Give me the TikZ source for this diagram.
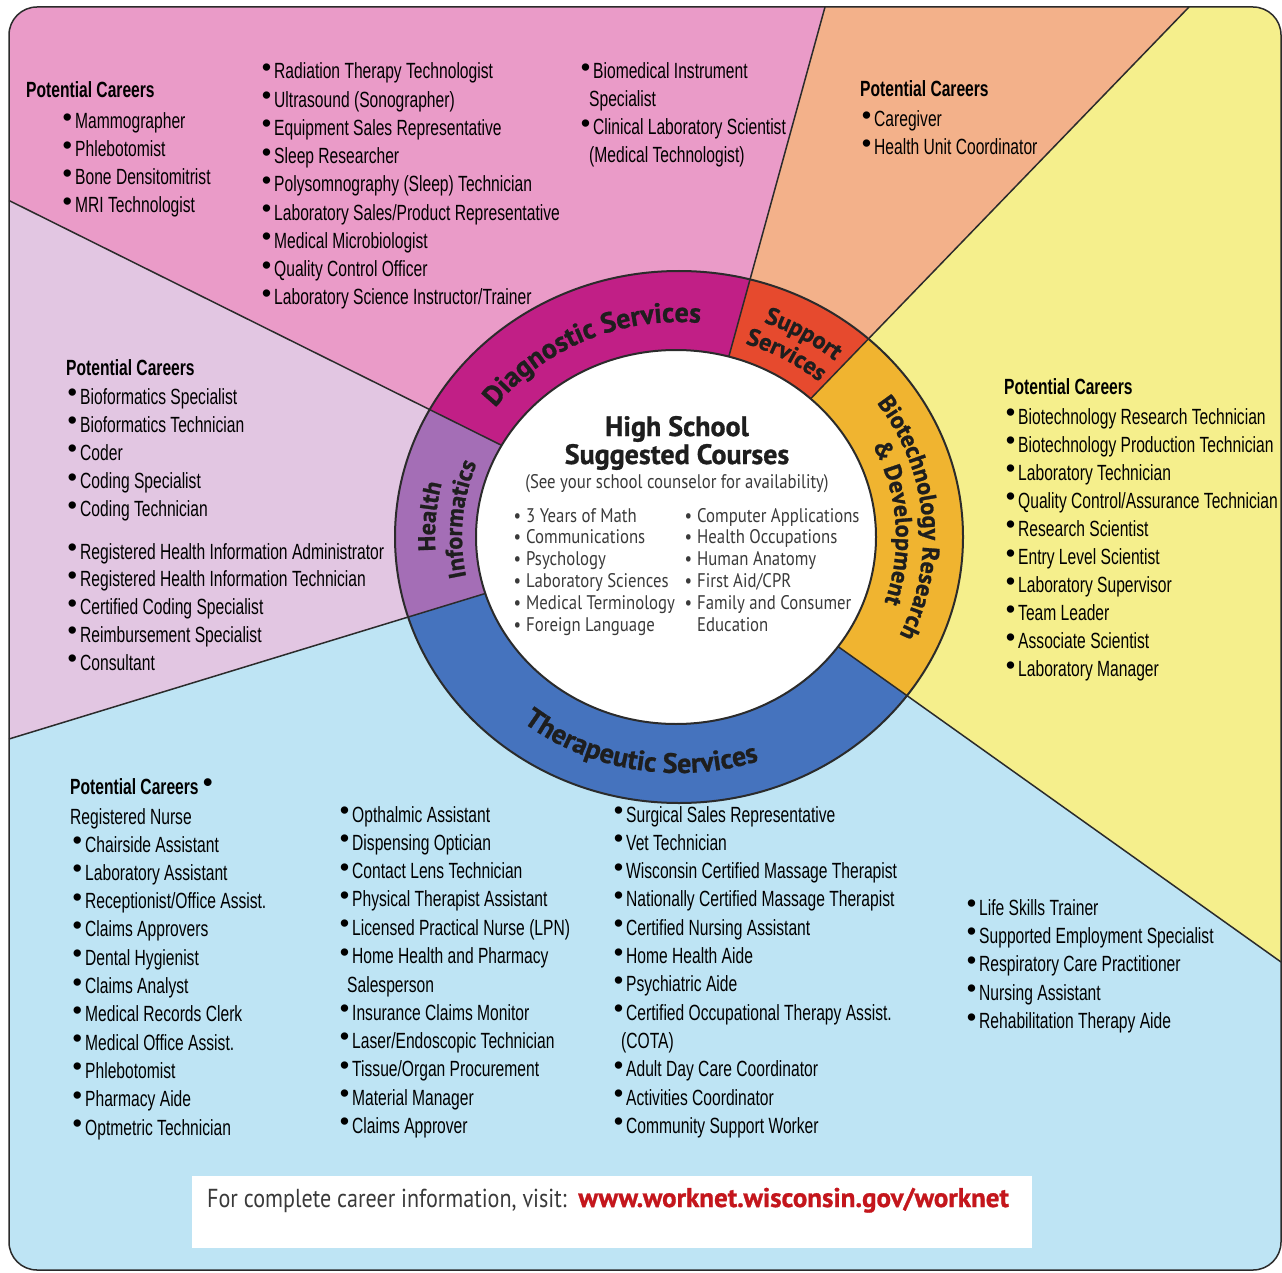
\documentclass[tikz,border=0pt]{standalone}
\usepackage{fontspec}
\usetikzlibrary{calc}

\newfontfamily\listfont[FakeStretch=0.71]{Liberation Sans}
\newfontfamily\dotfont{Liberation Sans}
\newfontfamily\ringfont[BoldFeatures={FakeBold=1}]{PT Sans}
\newfontfamily\coursefont[FakeStretch=0.85]{PT Sans}

\definecolor{dsbg}{HTML}{EA9BC8}
\definecolor{dsring}{HTML}{C11F86}
\definecolor{ssbg}{HTML}{F3B18A}
\definecolor{ssring}{HTML}{E64A2E}
\definecolor{btbg}{HTML}{F5EF8C}
\definecolor{btring}{HTML}{F0B430}
\definecolor{tsbg}{HTML}{BEE4F4}
\definecolor{tsring}{HTML}{4573BE}
\definecolor{hibg}{HTML}{E2C6E2}
\definecolor{hiring}{HTML}{A46EB6}
\definecolor{edge}{HTML}{2B2B2B}
\definecolor{ringtext}{HTML}{1E1E1E}
\definecolor{coursetext}{HTML}{3A3A3A}
\definecolor{urlred}{HTML}{C4161C}

\newcommand{\bigdot}{{\dotfont\fontsize{27}{27}\selectfont\raisebox{2.5pt}{\textbullet}}}
\newcommand{\dotitem}{\llap{\bigdot\hspace{3pt}}}
\newcommand{\coursedot}{\llap{\textbullet\hspace{5pt}}}
\newcommand{\bigring}{\ringfont\bfseries\fontsize{28}{28}\selectfont\color{ringtext}}
\newcommand{\smallring}{\ringfont\bfseries\fontsize{24}{24}\selectfont\color{ringtext}}

% Width of one letter, measured outside the picture
\newdimen\arcw
\newcommand{\letterwidth}[2]{%
  \pgfinterruptpicture\settowidth{\arcw}{#1#2}\global\arcw=\arcw\endpgfinterruptpicture}

% Letters set one by one along an ellipse arc
% #1 name, #2 font, #3 middle angle, #4 x radius, #5 y radius, #6 direction, #7 letters
\newcommand{\arctext}[7]{%
  \gdef\arcsum{0}%
  \foreach \ch in {#7}{%
    \letterwidth{#2}{\ch}%
    \pgfmathsetmacro\tmp{\arcsum+\the\arcw}%
    \xdef\arcsum{\tmp}%
  }%
  \pgfmathsetmacro\spd{100*sqrt((#4/100*sin(#3))^2+(#5/100*cos(#3))^2)}%
  \pgfmathsetmacro\tmp{#3-(#6)*(\arcsum/2)/\spd*180/pi}%
  \xdef\arct{\tmp}%
  \foreach \ch [count=\idx] in {#7}{%
    \letterwidth{#2}{\ch}%
    \pgfmathsetmacro\spd{100*sqrt((#4/100*sin(\arct))^2+(#5/100*cos(\arct))^2)}%
    \pgfmathsetmacro\tmid{\arct+(#6)*(\the\arcw/2)/\spd*180/pi}%
    \pgfmathsetmacro\rot{atan2((#6)*(#5)*cos(\tmid),-1*(#6)*(#4)*sin(\tmid))}%
    \node[anchor=base, inner sep=0pt, rotate=\rot, font=#2] (#1-\idx) at (\tmid:#4 and #5) {\ch};%
    \pgfmathsetmacro\tmp{\arct+(#6)*\the\arcw/\spd*180/pi}%
    \xdef\arct{\tmp}%
  }%
}

\tikzset{
  career/.style={anchor=base west, inner sep=0pt, font=\listfont\fontsize{22}{22}\selectfont},
  heading/.style={career, font=\listfont\bfseries\fontsize{22}{22}\selectfont},
  course/.style={anchor=base west, inner sep=0pt, text=coursetext, font=\coursefont\fontsize{19.7}{19.7}\selectfont},
  title/.style={anchor=base, inner sep=0pt, text=ringtext, font=\ringfont\bfseries\fontsize{28}{28}\selectfont},
  footer/.style={anchor=base west, inner sep=0pt, text=coursetext, font=\coursefont\fontsize{26}{26}\selectfont},
  sector line/.style={draw=edge, line width=1.5pt},
  ring edge/.style={draw=edge, line width=2pt},
}

\begin{document}
\begin{tikzpicture}[x=1pt, y=-1pt]
\useasboundingbox (0,0) rectangle (1282,1273);
\coordinate (centre) at (680,534);
\coordinate (ring) at (679,537);
\coordinate (core) at (676,537);
% Sector borders
\coordinate (ds-hi) at (9,200.5);
\coordinate (hi-ts) at (9,739);
\coordinate (ds-ss) at (825,7);
\coordinate (ss-bt) at (1189,7);
\coordinate (bt-ts) at (1281,962);

% Fill sectors and ring pieces
\begin{scope}
\clip[rounded corners=28pt] (9,7) rectangle (1281,1270);
% Diagnostic Services
\begin{scope}
\clip (centre) -- ($(centre)!1.2!(ds-hi)$) -- (-60,-60) -- ($(centre)!1.2!(ds-ss)$) -- cycle;
\fill[dsbg] (0,0) rectangle (1282,1273);
\fill[dsring] (ring) ellipse [x radius=284, y radius=266];
\end{scope}
% Support Services
\begin{scope}
\clip (centre) -- ($(centre)!1.2!(ds-ss)$) -- ($(centre)!1.2!(ss-bt)$) -- cycle;
\fill[ssbg] (0,0) rectangle (1282,1273);
\fill[ssring] (ring) ellipse [x radius=284, y radius=266];
\end{scope}
% Biotechnology
\begin{scope}
\clip (centre) -- ($(centre)!1.2!(ss-bt)$) -- (1350,-60) -- ($(centre)!1.2!(bt-ts)$) -- cycle;
\fill[btbg] (0,0) rectangle (1282,1273);
\fill[btring] (ring) ellipse [x radius=284, y radius=266];
\end{scope}
% Therapeutic Services
\begin{scope}
\clip (centre) -- ($(centre)!1.2!(bt-ts)$) -- (1350,1340) -- (-60,1340) -- ($(centre)!1.2!(hi-ts)$) -- cycle;
\fill[tsbg] (0,0) rectangle (1282,1273);
\fill[tsring] (ring) ellipse [x radius=284, y radius=266];
\end{scope}
% Health Informatics
\begin{scope}
\clip (centre) -- ($(centre)!1.2!(hi-ts)$) -- ($(centre)!1.2!(ds-hi)$) -- cycle;
\fill[hibg] (0,0) rectangle (1282,1273);
\fill[hiring] (ring) ellipse [x radius=284, y radius=266];
\end{scope}
\end{scope}

% Draw sector lines
\draw[sector line] (centre) -- (ds-hi);
\draw[sector line] (centre) -- (hi-ts);
\draw[sector line] (centre) -- (ds-ss);
\draw[sector line] (centre) -- (ss-bt);
\draw[sector line] (centre) -- (bt-ts);
% Draw frame and ring
\draw[draw=edge, line width=1.5pt, rounded corners=28pt] (9,7) rectangle (1281,1270);
\draw[ring edge] (ring) ellipse [x radius=284, y radius=266];
\filldraw[fill=white, ring edge] (core) ellipse [x radius=200, y radius=187];

% Ring labels
\begin{scope}[shift={(ring)}, y=1pt]
\arctext{diag}{\bigring}{114}{230}{215}{-1}{D,i,a,g,n,o,s,t,i,c,~,S,e,r,v,i,c,e,s}
\arctext{supa}{\smallring}{60}{244}{229}{-1}{S,u,p,p,o,r,t}
\arctext{supb}{\smallring}{61}{217}{203}{-1}{S,e,r,v,i,c,e,s}
\arctext{bioa}{\smallring}{5}{244}{229}{-1}{B,i,o,t,e,c,h,n,o,l,o,g,y,~,R,e,s,e,a,r,c,h}
\arctext{biob}{\smallring}{4}{217}{203}{-1}{\&,~,D,e,v,e,l,o,p,m,e,n,t}
\arctext{hlta}{\smallring}{175}{244}{229}{-1}{H,e,a,l,t,h}
\arctext{hltb}{\smallring}{175}{217}{203}{-1}{I,n,f,o,r,m,a,t,i,c,s}
\arctext{ther}{\bigring}{260}{252}{236}{1}{T,h,e,r,a,p,e,u,t,i,c,~,S,e,r,v,i,c,e,s}
\end{scope}

% Suggested courses
\node[title] (school) at (677,436) {High School};
\node[title] (suggested) at (677,464) {Suggested Courses};
\node[course, anchor=base] (counselor) at (677,488) {(See your school counselor for availability)};
\foreach \course [count=\i from 0] in {3 Years of Math, Communications, Psychology, Laboratory Sciences, Medical Terminology, Foreign Language}
  \node[course] (left-\i) at (526,522+21.9*\i) {\coursedot\course};
\foreach \course [count=\i from 0] in {Computer Applications, Health Occupations, Human Anatomy, First Aid/CPR, Family and Consumer}
  \node[course] (right-\i) at (697,522+21.9*\i) {\coursedot\course};
\node[course] (right-5) at (697,631.5) {Education};

% Diagnostic careers
\node[heading] (ds-head) at (26,98) {Potential Careers};
\foreach \job [count=\i from 0] in {Mammographer, Phlebotomist, Bone Densitomitrist, MRI Technologist}
  \node[career] (dsa-\i) at (75,129+28*\i) {\dotitem\job};
\foreach \job [count=\i from 0] in {Radiation Therapy Technologist, Ultrasound (Sonographer), Equipment Sales Representative, Sleep Researcher, Polysomnography (Sleep) Technician, Laboratory Sales/Product Representative, Medical Microbiologist, Quality Control Officer, Laboratory Science Instructor/Trainer}
  \node[career] (dsb-\i) at (274,79+28.25*\i) {\dotitem\job};
\node[career] (dsc-0) at (593,79) {\dotitem Biomedical Instrument};
\node[career] (dsc-1) at (589,107) {Specialist};
\node[career] (dsc-2) at (593,135) {\dotitem Clinical Laboratory Scientist};
\node[career] (dsc-3) at (589,163) {(Medical Technologist)};

% Support careers
\node[heading] (ss-head) at (860,97) {Potential Careers};
\node[career] (ss-0) at (874,127) {\dotitem Caregiver};
\node[career] (ss-1) at (874,155) {\dotitem Health Unit Coordinator};

% Biotechnology careers
\node[heading] (bt-head) at (1004,394) {Potential Careers};
\foreach \job [count=\i from 0] in {Biotechnology Research Technician, Biotechnology Production Technician, Laboratory Technician, Quality Control/Assurance Technician, Research Scientist, Entry Level Scientist, Laboratory Supervisor, Team Leader, Associate Scientist, Laboratory Manager}
  \node[career] (bt-\i) at (1018,424+28.1*\i) {\dotitem\job};

% Health Informatics careers
\node[heading] (hi-head) at (66,375) {Potential Careers};
\foreach \job [count=\i from 0] in {Bioformatics Specialist, Bioformatics Technician, Coder, Coding Specialist, Coding Technician}
  \node[career] (hia-\i) at (80,404+28.2*\i) {\dotitem\job};
\foreach \job [count=\i from 0] in {Registered Health Information Administrator, Registered Health Information Technician, Certified Coding Specialist, Reimbursement Specialist, Consultant}
  \node[career] (hib-\i) at (80,559+27.8*\i) {\dotitem\job};

% Therapeutic careers
\node[heading] (ts-head) at (70,794) {Potential Careers \bigdot};
\node[career] (tsa-n) at (70,824) {Registered Nurse};
\foreach \job [count=\i from 0] in {Chairside Assistant, Laboratory Assistant, Receptionist/Office Assist., Claims Approvers, Dental Hygienist, Claims Analyst, Medical Records Clerk, Medical Office Assist., Phlebotomist, Pharmacy Aide, Optmetric Technician}
  \node[career] (tsa-\i) at (85,852+28.3*\i) {\dotitem\job};
\foreach \job [count=\i from 0] in {Opthalmic Assistant, Dispensing Optician, Contact Lens Technician, Physical Therapist Assistant, Licensed Practical Nurse (LPN), Home Health and Pharmacy}
  \node[career] (tsb-\i) at (352,822+28.3*\i) {\dotitem\job};
\node[career] (tsb-6) at (347,992) {Salesperson};
\foreach \job [count=\i from 7] in {Insurance Claims Monitor, Laser/Endoscopic Technician, Tissue/Organ Procurement, Material Manager, Claims Approver}
  \node[career] (tsb-\i) at (352,822+28.3*\i) {\dotitem\job};
\foreach \job [count=\i from 0] in {Surgical Sales Representative, Vet Technician, Wisconsin Certified Massage Therapist, Nationally Certified Massage Therapist, Certified Nursing Assistant, Home Health Aide, Psychiatric Aide, Certified Occupational Therapy Assist.}
  \node[career] (tsc-\i) at (626,822+28.3*\i) {\dotitem\job};
\node[career] (tsc-8) at (621,1048.4) {(COTA)};
\foreach \job [count=\i from 9] in {Adult Day Care Coordinator, Activities Coordinator, Community Support Worker}
  \node[career] (tsc-\i) at (626,822+28.3*\i) {\dotitem\job};
\foreach \job [count=\i from 0] in {Life Skills Trainer, Supported Employment Specialist, Respiratory Care Practitioner, Nursing Assistant, Rehabilitation Therapy Aide}
  \node[career] (tsd-\i) at (979,915+28.4*\i) {\dotitem\job};

% Footer
\fill[white] (192,1176) rectangle (1032,1248);
\node[footer] (visit) at (207,1207) {For complete career information, visit:\ \ \textcolor{urlred}{\ringfont\bfseries\fontsize{27}{27}\selectfont www.worknet.wisconsin.gov/worknet}};
\end{tikzpicture}
\end{document}
